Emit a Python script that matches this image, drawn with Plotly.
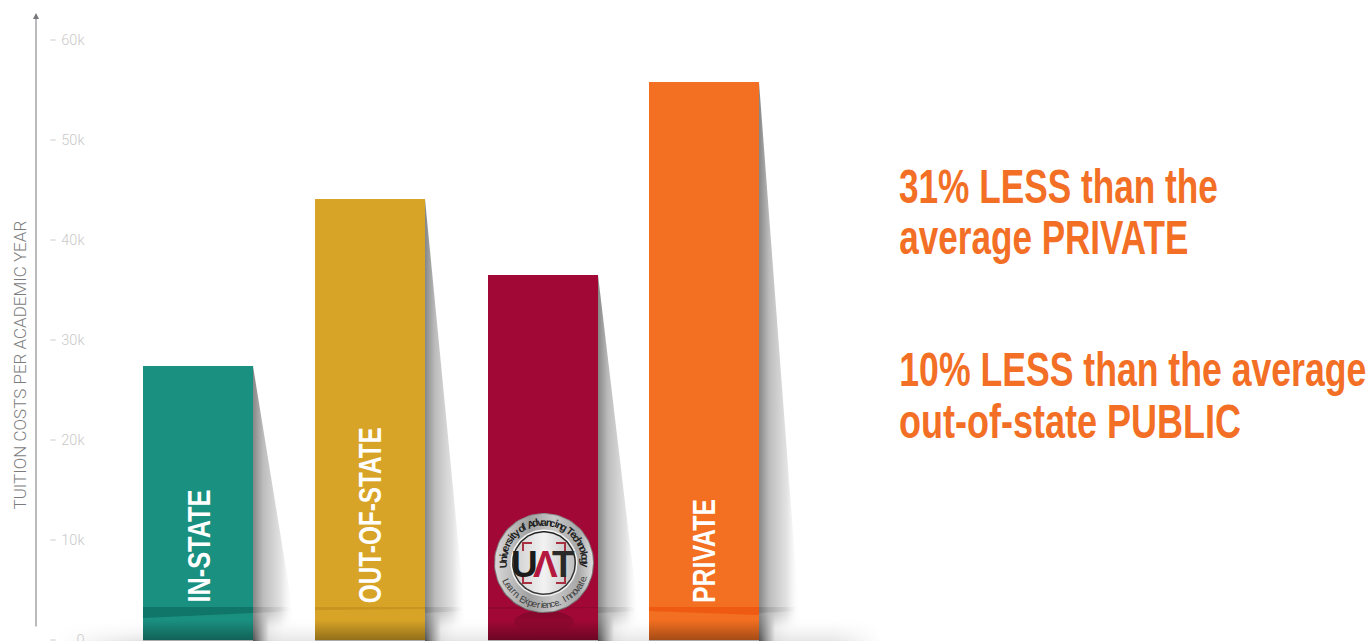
import json
import math
import plotly.graph_objects as go

categories = ["IN-STATE", "OUT-OF-STATE", "UAT", "PRIVATE"]
tuition = [27400, 44100, 36500, 55800]
bar_labels = ["IN-STATE", "OUT-OF-STATE", "", "PRIVATE"]
tick_values = [0, 10000, 20000, 30000, 40000, 50000, 60000]
tick_labels = ["0", "10k", "20k", "30k", "40k", "50k", "60k"]
callouts = ["31% LESS than the", "average PRIVATE", "10% LESS than the average", "out-of-state PUBLIC"]
axis_title = "TUITION COSTS PER ACADEMIC YEAR"
seal_top = "University of Advancing Technology"
seal_bottom = "Learn. Experience. Innovate."

# layout constants (x axis is in pixels)
CENTERS = [198, 370, 543, 704]
BAR_W = 110
COLORS = ["#1a9080", "#d8a427", "#a10835", "#f36f21"]
BAND = ["#10766a", "#c8931f", "#8f0730", "#ef5a12"]
WEDGE = [(618, 613), (610, 609), (609, 608), (611, 615)]
ORANGE = "#f26f25"
COND = "Liberation Sans"
LABEL_SPAN = [(490, 603), (427, 603), None, (499, 603)]
CALLOUT_SPAN = [319, 289, 467, 342]
CALLOUT_Y = [186, 237, 369.5, 421]


def V(py):
    return (640 - py) * 100


fig = go.Figure()
fig.add_trace(go.Bar(x=CENTERS, y=tuition, width=BAR_W, marker=dict(color=COLORS, line_width=0),
                     hoverinfo="skip", customdata=categories))


def poly(xs, ys, orient, start, stop, scale):
    fig.add_trace(go.Scatter(x=xs, y=ys, mode="lines", line=dict(width=0), fill="toself",
                             fillgradient=dict(type=orient, start=start, stop=stop, colorscale=scale),
                             hoverinfo="skip"))


rights = [c + BAR_W / 2 for c in CENTERS]
lefts = [c - BAR_W / 2 for c in CENTERS]

# cast shadows
for r, val in zip(rights, tuition):
    poly([r, r + 40, r + 40, r], [val, V(612), V(641), V(641)], "horizontal", r, r + 40,
         [[0, "rgba(128,128,128,0.95)"], [0.25, "rgba(180,180,180,0.9)"],
          [0.7, "rgba(222,222,222,0.85)"], [1, "rgba(255,255,255,0.2)"]])

# floor fade in the gaps, built from thin strips
gaps = [(0, lefts[0], False)] + [(rights[i], lefts[i + 1], True) for i in range(3)] + [(rights[3], 1372, True)]
for a, b, has_shadow in gaps:
    w = b - a
    y = 612
    while y < 641:
        s = (y - 612) / 29
        al = min(1, s * 1.9)
        g = int(255 - 26 * s ** 2.2)
        if has_shadow:
            dark = 0.04 + 0.86 * s ** 1.6
            e1 = min(0.98, 16 / w)
            e2 = min(0.99, 34 / w)
            head = [[0, f"rgba(70,70,70,{dark:.2f})"], [e1, f"rgba({g},{g},{g},{al * 0.7:.2f})"],
                    [e2, f"rgba({g},{g},{g},{al:.2f})"]]
            if b == 1372:
                stops = head + [[0.12, f"rgba({g},{g},{g},{al:.2f})"], [0.2, f"rgba(255,255,255,{al:.2f})"],
                                [1, f"rgba(255,255,255,{al:.2f})"]]
            else:
                stops = head + [[1, f"rgba({g},{g},{g},{al:.2f})"]]
        else:
            g2 = int(255 - 30 * s ** 3)
            stops = [[0, f"rgba(255,255,255,{al:.2f})"], [0.4, f"rgba(255,255,255,{al:.2f})"],
                     [1, f"rgba({g2},{g2},{g2},{al:.2f})"]]
        poly([a, b, b, a], [V(y), V(y), V(y + 2), V(y + 2)], "horizontal", a, b, stops)
        y += 2

# horizon band on the shadows
for r in rights:
    poly([r, r + 38, r + 38, r], [V(607), V(607), V(611), V(613)], "horizontal", r, r + 38,
         [[0, "rgba(0,0,0,0.13)"], [0.7, "rgba(0,0,0,0.06)"], [1, "rgba(0,0,0,0)"]])

# horizon band and floor darkening on the bars
for l, r, band, (wl, wr) in zip(lefts, rights, BAND, WEDGE):
    fig.add_trace(go.Scatter(x=[l, r, r, l], y=[V(607), V(607), V(wr), V(wl)], mode="lines", line=dict(width=0),
                             fill="toself", fillcolor=band, hoverinfo="skip"))
    poly([l, r, r, l], [V(620), V(620), V(641), V(641)], "vertical", V(641), V(620),
         [[0, "rgba(0,0,0,0.34)"], [1, "rgba(0,0,0,0)"]])

# seal
CX, CY = 544, 563


def circle(r, scale, orient="vertical", cy=CY, squash=1.0):
    ts = [i * 2 * math.pi / 90 for i in range(91)]
    xs = [CX + r * math.cos(t) for t in ts]
    ys = [V(cy + r * math.sin(t) * squash) for t in ts]
    if orient == "vertical":
        poly(xs, ys, "vertical", V(cy + r * squash), V(cy - r * squash), scale)
    else:
        poly(xs, ys, "horizontal", CX - r, CX + r, scale)


# faint reflection of the seal on the floor
circle(30, [[0, "rgba(50,0,15,0)"], [1, "rgba(50,0,15,0.28)"]], cy=622, squash=0.38)

circle(50, [[0, "#6f6f6f"], [1, "#8a8a8a"]])
circle(49, [[0, "#d8d8d8"], [0.35, "#a0a0a0"], [0.6, "#c8c8c8"], [0.85, "#a8a8a8"], [1, "#dedede"]], "horizontal")
circle(33.5, [[0, "#f0f0f0"], [1, "#f8f8f8"]])
circle(32, [[0, "#3a3a3a"], [1, "#222222"]])
circle(30.5, [[0, "#cfcfcf"], [0.5, "#f2f2f2"], [1, "#c0c0c0"]], "horizontal")

# brackets
for sx in (-1, 1):
    for sy, yy in ((1, 543), (-1, 583)):
        fig.add_trace(go.Scatter(x=[CX + sx * 12, CX + sx * 21, CX + sx * 21],
                                 y=[V(yy), V(yy), V(yy + sy * 8)], mode="lines",
                                 line=dict(color="#a83040", width=2), hoverinfo="skip"))

# axis tick dashes
fig.add_trace(go.Scatter(x=[53] * len(tick_values), y=tick_values, mode="markers",
                         marker=dict(symbol="line-ew", size=4, line=dict(color="#cfcfcf", width=1)),
                         hoverinfo="skip"))

ann = []
squeeze = {}
for x, lab, span in zip(CENTERS, bar_labels, LABEL_SPAN):
    if lab:
        ann.append(dict(x=x, y=V((span[0] + span[1]) / 2), text=lab, textangle=-90, showarrow=False,
                        yanchor="middle", xanchor="center",
                        font=dict(family=COND, size=32, color="white", weight=700)))
        squeeze[lab] = span[1] - span[0]

for txt, py, wid in zip(callouts, CALLOUT_Y, CALLOUT_SPAN):
    ann.append(dict(x=899 + wid / 2, y=V(py), text=txt, showarrow=False, xanchor="center", yanchor="middle",
                    font=dict(family=COND, size=48, color=ORANGE, weight=700)))
    squeeze[txt] = wid

ann.append(dict(x=19, y=V(365.5), text=axis_title, textangle=-90, showarrow=False, xanchor="center", yanchor="middle",
                font=dict(family="Roboto", size=17, color="#7c7c7c", weight=300)))
ann.append(dict(x=36, y=V(13), ax=36, ay=V(628), axref="x", ayref="y", text="", showarrow=True, arrowhead=2,
                arrowsize=1.2, arrowwidth=1, arrowcolor="#77777c"))

# UAT letters
for txt, x, col in (("U", 524, "#1b1b1b"), ("Λ", 545.5, "#b5183f"), ("T", 563, "#2a2a2a")):
    ann.append(dict(x=x, y=V(564), text=txt, showarrow=False,
                    font=dict(family="Liberation Sans", size=37, color=col, weight=700)))


def char_w(c):
    if c in "il.,'t f":
        return 0.62
    if c in "mwMWATUJ":
        return 1.25
    return 1.0


def arc(text, mid_deg, span, rad, size, color, bold, bottom):
    ws = [char_w(c) for c in text]
    tot = sum(ws)
    pos = 0
    for c, w in zip(text, ws):
        frac = (pos + w / 2) / tot
        pos += w
        off = -span / 2 + span * frac
        if bottom:
            deg = mid_deg - off
            rot = deg - 180
        else:
            deg = mid_deg + off
            rot = deg
        x = CX + rad * math.sin(math.radians(deg))
        y = CY - rad * math.cos(math.radians(deg))
        if c != " ":
            ann.append(dict(x=x, y=V(y), text=c, textangle=rot, showarrow=False,
                            font=dict(family="Liberation Sans", size=size, color=color,
                                      weight=700 if bold else 400)))


arc(seal_top, 0, 192, 41.5, 10.5, "#1f1f1f", True, False)
arc(seal_bottom, 177, 140, 41.5, 9.5, "#3a3a3a", False, True)

fig.update_layout(
    width=1372, height=641, margin=dict(l=0, r=0, t=0, b=0), paper_bgcolor="white", plot_bgcolor="white",
    showlegend=False, annotations=ann, barmode="overlay",
    xaxis=dict(range=[0, 1372], visible=False, fixedrange=True, automargin=False),
    yaxis=dict(range=[V(641), V(0)], anchor="free", position=84.5 / 1372, side="left", showgrid=False, zeroline=False,
               showline=False, ticks="", tickmode="array", tickvals=tick_values, ticktext=tick_labels,
               ticklabeloverflow="allow", tickfont=dict(family="Roboto", size=14.5, color="#c9c9c9", weight=300),
               fixedrange=True, automargin=False),
)
script = (
    "document.body.style.margin='0';document.body.style.overflow='hidden';"
    "var sq=" + json.dumps(squeeze) + ";"
    "document.querySelectorAll('text.annotation-text').forEach(function(t){"
    "var w=sq[t.textContent];if(w){t.setAttribute('textLength',w);"
    "t.setAttribute('lengthAdjust','spacingAndGlyphs');}});"
)
fig.write_html("out.html", config=dict(displayModeBar=False), post_script=script)
